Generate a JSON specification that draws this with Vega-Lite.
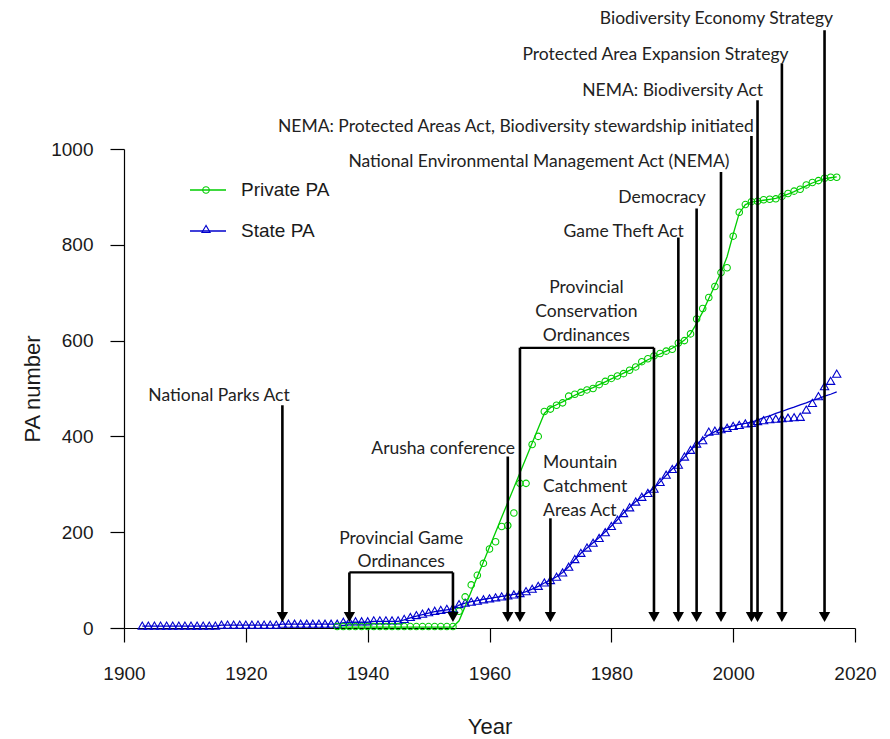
{
 "$schema": "https://vega.github.io/schema/vega-lite/v6.json",
 "width": 731,
 "height": 479,
 "autosize": {"type": "none"},
 "padding": {"left": 124, "top": 149, "right": 35, "bottom": 111},
 "background": "white",
 "config": {"view": {"stroke": null}},
 "datasets": {
  "pa": [
   {"year":1903,"series":"State PA","count":5,"fit":4},{"year":1904,"series":"State PA","count":5,"fit":4},{"year":1905,"series":"State PA","count":5,"fit":4},{"year":1906,"series":"State PA","count":5,"fit":4},{"year":1907,"series":"State PA","count":5,"fit":4},{"year":1908,"series":"State PA","count":5,"fit":4},{"year":1909,"series":"State PA","count":5,"fit":4},{"year":1910,"series":"State PA","count":5,"fit":4},{"year":1911,"series":"State PA","count":5,"fit":4},{"year":1912,"series":"State PA","count":5,"fit":4},{"year":1913,"series":"State PA","count":5,"fit":4},{"year":1914,"series":"State PA","count":5,"fit":4},{"year":1915,"series":"State PA","count":5,"fit":4},
   {"year":1916,"series":"State PA","count":7,"fit":6},{"year":1917,"series":"State PA","count":7,"fit":6},{"year":1918,"series":"State PA","count":7,"fit":6},{"year":1919,"series":"State PA","count":7,"fit":6},{"year":1920,"series":"State PA","count":7,"fit":6},{"year":1921,"series":"State PA","count":7,"fit":6},{"year":1922,"series":"State PA","count":7,"fit":6},{"year":1923,"series":"State PA","count":7,"fit":6},{"year":1924,"series":"State PA","count":7,"fit":6},{"year":1925,"series":"State PA","count":7,"fit":6},
   {"year":1926,"series":"State PA","count":9,"fit":8},{"year":1927,"series":"State PA","count":9,"fit":8},{"year":1928,"series":"State PA","count":9,"fit":8},{"year":1929,"series":"State PA","count":9,"fit":8},{"year":1930,"series":"State PA","count":9,"fit":8},{"year":1931,"series":"State PA","count":9,"fit":8},{"year":1932,"series":"State PA","count":9,"fit":8},{"year":1933,"series":"State PA","count":9,"fit":8},{"year":1934,"series":"State PA","count":9,"fit":8},{"year":1935,"series":"State PA","count":9,"fit":8},
   {"year":1936,"series":"State PA","count":13,"fit":11},{"year":1937,"series":"State PA","count":14,"fit":12},{"year":1938,"series":"State PA","count":14,"fit":12},{"year":1939,"series":"State PA","count":14,"fit":12},{"year":1940,"series":"State PA","count":14,"fit":12},
   {"year":1941,"series":"State PA","count":16,"fit":14},{"year":1942,"series":"State PA","count":16,"fit":14},{"year":1943,"series":"State PA","count":16,"fit":14},{"year":1944,"series":"State PA","count":16,"fit":14},{"year":1945,"series":"State PA","count":16,"fit":14},
   {"year":1946,"series":"State PA","count":19,"fit":17},{"year":1947,"series":"State PA","count":23,"fit":21},{"year":1948,"series":"State PA","count":27,"fit":25},{"year":1949,"series":"State PA","count":30,"fit":28},{"year":1950,"series":"State PA","count":33,"fit":31},{"year":1951,"series":"State PA","count":36,"fit":34},{"year":1952,"series":"State PA","count":38,"fit":36},{"year":1953,"series":"State PA","count":40,"fit":38},{"year":1954,"series":"State PA","count":42,"fit":40},
   {"year":1955,"series":"State PA","count":50,"fit":48},{"year":1956,"series":"State PA","count":53,"fit":52},{"year":1957,"series":"State PA","count":55,"fit":55},{"year":1958,"series":"State PA","count":57,"fit":57},{"year":1959,"series":"State PA","count":60,"fit":60},{"year":1960,"series":"State PA","count":62,"fit":62},{"year":1961,"series":"State PA","count":64,"fit":64},{"year":1962,"series":"State PA","count":66,"fit":66},{"year":1963,"series":"State PA","count":68,"fit":68},{"year":1964,"series":"State PA","count":70,"fit":70},
   {"year":1965,"series":"State PA","count":73,"fit":72},{"year":1966,"series":"State PA","count":77,"fit":76},{"year":1967,"series":"State PA","count":82,"fit":81},{"year":1968,"series":"State PA","count":88,"fit":87},{"year":1969,"series":"State PA","count":95,"fit":94},{"year":1970,"series":"State PA","count":100,"fit":100},{"year":1971,"series":"State PA","count":107,"fit":107},{"year":1972,"series":"State PA","count":116,"fit":116},{"year":1973,"series":"State PA","count":128,"fit":128},{"year":1974,"series":"State PA","count":144,"fit":143},
   {"year":1975,"series":"State PA","count":157,"fit":156},{"year":1976,"series":"State PA","count":168,"fit":167},{"year":1977,"series":"State PA","count":178,"fit":178},{"year":1978,"series":"State PA","count":188,"fit":189},{"year":1979,"series":"State PA","count":200,"fit":201},{"year":1980,"series":"State PA","count":213,"fit":213},{"year":1981,"series":"State PA","count":226,"fit":226},{"year":1982,"series":"State PA","count":240,"fit":240},{"year":1983,"series":"State PA","count":252,"fit":252},{"year":1984,"series":"State PA","count":264,"fit":264},
   {"year":1985,"series":"State PA","count":274,"fit":274},{"year":1986,"series":"State PA","count":282,"fit":283},{"year":1987,"series":"State PA","count":291,"fit":292},{"year":1988,"series":"State PA","count":305,"fit":305},{"year":1989,"series":"State PA","count":320,"fit":319},{"year":1990,"series":"State PA","count":332,"fit":332},{"year":1991,"series":"State PA","count":341,"fit":343},{"year":1992,"series":"State PA","count":358,"fit":357},{"year":1993,"series":"State PA","count":372,"fit":371},{"year":1994,"series":"State PA","count":385,"fit":384},
   {"year":1995,"series":"State PA","count":392,"fit":394},{"year":1996,"series":"State PA","count":410,"fit":403},{"year":1997,"series":"State PA","count":412,"fit":410},{"year":1998,"series":"State PA","count":415,"fit":415},{"year":1999,"series":"State PA","count":418,"fit":419},{"year":2000,"series":"State PA","count":422,"fit":422},{"year":2001,"series":"State PA","count":424,"fit":425},{"year":2002,"series":"State PA","count":427,"fit":427},{"year":2003,"series":"State PA","count":428,"fit":430},{"year":2004,"series":"State PA","count":432,"fit":434},
   {"year":2005,"series":"State PA","count":434,"fit":439},{"year":2006,"series":"State PA","count":436,"fit":443},{"year":2007,"series":"State PA","count":437,"fit":448},{"year":2008,"series":"State PA","count":438,"fit":452},{"year":2009,"series":"State PA","count":439,"fit":457},{"year":2010,"series":"State PA","count":440,"fit":461},{"year":2011,"series":"State PA","count":441,"fit":466},{"year":2012,"series":"State PA","count":456,"fit":470},{"year":2013,"series":"State PA","count":470,"fit":475},{"year":2014,"series":"State PA","count":484,"fit":479},
   {"year":2015,"series":"State PA","count":505,"fit":484},{"year":2016,"series":"State PA","count":516,"fit":488},{"year":2017,"series":"State PA","count":531,"fit":493},
   {"year":1935,"series":"Private PA","count":3,"fit":2},{"year":1936,"series":"Private PA","count":3,"fit":2},{"year":1937,"series":"Private PA","count":3,"fit":2},{"year":1938,"series":"Private PA","count":3,"fit":2},{"year":1939,"series":"Private PA","count":3,"fit":2},{"year":1940,"series":"Private PA","count":3,"fit":2},{"year":1941,"series":"Private PA","count":3,"fit":2},{"year":1942,"series":"Private PA","count":3,"fit":2},{"year":1943,"series":"Private PA","count":3,"fit":2},{"year":1944,"series":"Private PA","count":3,"fit":2},
   {"year":1945,"series":"Private PA","count":3,"fit":2},{"year":1946,"series":"Private PA","count":3,"fit":2},{"year":1947,"series":"Private PA","count":3,"fit":2},{"year":1948,"series":"Private PA","count":3,"fit":2},{"year":1949,"series":"Private PA","count":3,"fit":2},{"year":1950,"series":"Private PA","count":3,"fit":2},{"year":1951,"series":"Private PA","count":3,"fit":2},{"year":1952,"series":"Private PA","count":3,"fit":2},{"year":1953,"series":"Private PA","count":3,"fit":2},{"year":1954,"series":"Private PA","count":3,"fit":2},
   {"year":1955,"series":"Private PA","count":35,"fit":15},{"year":1956,"series":"Private PA","count":65,"fit":45},{"year":1957,"series":"Private PA","count":90,"fit":76},{"year":1958,"series":"Private PA","count":110,"fit":107},{"year":1959,"series":"Private PA","count":135,"fit":138},{"year":1960,"series":"Private PA","count":165,"fit":169},{"year":1961,"series":"Private PA","count":180,"fit":200},{"year":1962,"series":"Private PA","count":212,"fit":231},{"year":1963,"series":"Private PA","count":214,"fit":262},{"year":1964,"series":"Private PA","count":240,"fit":293},
   {"year":1965,"series":"Private PA","count":302,"fit":324},{"year":1966,"series":"Private PA","count":302,"fit":355},{"year":1967,"series":"Private PA","count":383,"fit":386},{"year":1968,"series":"Private PA","count":400,"fit":417},{"year":1969,"series":"Private PA","count":452,"fit":448},{"year":1970,"series":"Private PA","count":457,"fit":460},{"year":1971,"series":"Private PA","count":465,"fit":466},{"year":1972,"series":"Private PA","count":470,"fit":472},{"year":1973,"series":"Private PA","count":484,"fit":479},{"year":1974,"series":"Private PA","count":488,"fit":486},
   {"year":1975,"series":"Private PA","count":492,"fit":492},{"year":1976,"series":"Private PA","count":497,"fit":497},{"year":1977,"series":"Private PA","count":500,"fit":502},{"year":1978,"series":"Private PA","count":508,"fit":508},{"year":1979,"series":"Private PA","count":515,"fit":514},{"year":1980,"series":"Private PA","count":521,"fit":520},{"year":1981,"series":"Private PA","count":526,"fit":526},{"year":1982,"series":"Private PA","count":531,"fit":532},{"year":1983,"series":"Private PA","count":538,"fit":538},{"year":1984,"series":"Private PA","count":545,"fit":545},
   {"year":1985,"series":"Private PA","count":556,"fit":553},{"year":1986,"series":"Private PA","count":562,"fit":560},{"year":1987,"series":"Private PA","count":568,"fit":566},{"year":1988,"series":"Private PA","count":573,"fit":572},{"year":1989,"series":"Private PA","count":578,"fit":578},{"year":1990,"series":"Private PA","count":582,"fit":584},{"year":1991,"series":"Private PA","count":595,"fit":592},{"year":1992,"series":"Private PA","count":600,"fit":601},{"year":1993,"series":"Private PA","count":614,"fit":614},{"year":1994,"series":"Private PA","count":645,"fit":636},
   {"year":1995,"series":"Private PA","count":667,"fit":660},{"year":1996,"series":"Private PA","count":690,"fit":688},{"year":1997,"series":"Private PA","count":713,"fit":715},{"year":1998,"series":"Private PA","count":742,"fit":742},{"year":1999,"series":"Private PA","count":752,"fit":775},{"year":2000,"series":"Private PA","count":818,"fit":822},{"year":2001,"series":"Private PA","count":868,"fit":866},{"year":2002,"series":"Private PA","count":884,"fit":884},{"year":2003,"series":"Private PA","count":890,"fit":889},{"year":2004,"series":"Private PA","count":891,"fit":891},
   {"year":2005,"series":"Private PA","count":894,"fit":893},{"year":2006,"series":"Private PA","count":895,"fit":895},{"year":2007,"series":"Private PA","count":896,"fit":897},{"year":2008,"series":"Private PA","count":901,"fit":901},{"year":2009,"series":"Private PA","count":907,"fit":906},{"year":2010,"series":"Private PA","count":912,"fit":911},{"year":2011,"series":"Private PA","count":916,"fit":917},{"year":2012,"series":"Private PA","count":925,"fit":923},{"year":2013,"series":"Private PA","count":930,"fit":929},{"year":2014,"series":"Private PA","count":934,"fit":934},
   {"year":2015,"series":"Private PA","count":939,"fit":938},{"year":2016,"series":"Private PA","count":941,"fit":940},{"year":2017,"series":"Private PA","count":941,"fit":942}
  ],
  "arrows": [
   {"year":1926,"top":465},{"year":1937,"top":116},{"year":1954,"top":116},{"year":1963,"top":358},{"year":1965,"top":585},{"year":1970,"top":229},{"year":1987,"top":585},{"year":1991,"top":815},{"year":1994,"top":876},{"year":1998,"top":952},{"year":2003,"top":1027},{"year":2004,"top":1102},{"year":2008,"top":1179},{"year":2015,"top":1248}
  ],
  "brackets": [
   {"start":1937,"end":1954,"level":116},{"start":1965,"end":1987,"level":585}
  ],
  "labels": [
   {"text":"National Parks Act","x":1927.2,"y":473,"align":"right"},
   {"text":"Arusha conference","x":1964.2,"y":364,"align":"right"},
   {"text":"Game Theft Act","x":1991.9,"y":816,"align":"right"},
   {"text":"Democracy","x":1995.5,"y":887,"align":"right"},
   {"text":"National Environmental Management Act (NEMA)","x":1999.4,"y":962,"align":"right"},
   {"text":"NEMA: Protected Areas Act, Biodiversity stewardship initiated","x":2003.4,"y":1035,"align":"right"},
   {"text":"NEMA: Biodiversity Act","x":2004.9,"y":1110,"align":"right"},
   {"text":"Protected Area Expansion Strategy","x":2009.1,"y":1185,"align":"right"},
   {"text":"Biodiversity Economy Strategy","x":2016.4,"y":1260,"align":"right"},
   {"text":"Provincial Game","x":1945.5,"y":176,"align":"center"},
   {"text":"Ordinances","x":1945.5,"y":127,"align":"center"},
   {"text":"Provincial","x":1975.9,"y":699,"align":"center"},
   {"text":"Conservation","x":1975.9,"y":649,"align":"center"},
   {"text":"Ordinances","x":1975.9,"y":599,"align":"center"},
   {"text":"Mountain","x":1968.8,"y":334,"align":"left"},
   {"text":"Catchment","x":1968.8,"y":284,"align":"left"},
   {"text":"Areas Act","x":1968.8,"y":233,"align":"left"}
  ]
 },
 "layer": [
  {
   "data": {"name": "pa"},
   "mark": {"type": "line", "strokeWidth": 1.3},
   "encoding": {
    "x": {"field": "year", "type": "quantitative",
      "scale": {"domain": [1900, 2020], "nice": false, "zero": false},
      "axis": {"title": "Year", "values": [1900,1920,1940,1960,1980,2000,2020], "format": "d", "grid": false,
        "tickSize": 14, "tickColor": "black", "tickWidth": 1.2, "domainColor": "black", "domainWidth": 1.2,
        "labelFont": "Liberation Sans", "labelFontSize": 19, "labelColor": "#1a1a1a", "labelPadding": 22, "labelFlush": false,
        "titleFont": "Liberation Sans", "titleFontSize": 22, "titleFontWeight": "normal", "titleColor": "#1a1a1a", "titlePadding": 33}},
    "y": {"field": "fit", "type": "quantitative",
      "scale": {"domain": [0, 1000], "nice": false, "zero": false},
      "axis": {"title": "PA number", "values": [0,200,400,600,800,1000], "format": "d", "grid": false,
        "tickSize": 14, "tickColor": "black", "tickWidth": 1.2, "domainColor": "black", "domainWidth": 1.2,
        "labelFont": "Liberation Sans", "labelFontSize": 19, "labelColor": "#1a1a1a", "labelPadding": 17, "labelFlush": false,
        "titleFont": "Liberation Sans", "titleFontSize": 22, "titleFontWeight": "normal", "titleColor": "#1a1a1a", "titlePadding": 6}},
    "stroke": {"field": "series", "type": "nominal",
      "scale": {"domain": ["Private PA", "State PA"], "range": ["#00CD00", "#0000CD"]},
      "legend": {"orient": "none", "legendX": 65, "legendY": 22, "title": null, "padding": 0,
        "symbolType": "stroke", "symbolSize": 1296, "symbolStrokeWidth": 1.3, "rowPadding": 12,
        "labelFont": "Liberation Sans", "labelFontSize": 19, "labelColor": "#1a1a1a", "labelOffset": 14, "labelLimit": 300}}
   }
  },
  {
   "data": {"name": "pa"},
   "mark": {"type": "point", "filled": false, "strokeWidth": 1.1, "opacity": 1},
   "encoding": {
    "x": {"field": "year", "type": "quantitative"},
    "y": {"field": "count", "type": "quantitative"},
    "color": {"field": "series", "type": "nominal",
      "scale": {"range": ["#00CD00", "#0000CD"]},
      "legend": {"orient": "none", "legendX": 72.5, "legendY": 31.5, "title": null, "padding": 0,
        "symbolStrokeWidth": 1.1, "rowPadding": 19, "labelFontSize": 19, "labelExpr": "''", "labelOffset": 14}},
    "shape": {"field": "series", "type": "nominal", "scale": {"range": ["circle", "triangle-up"]}, "legend": null},
    "size": {"field": "series", "type": "nominal", "scale": {"range": [42, 68]}, "legend": null}
   }
  },
  {
   "data": {"name": "arrows"},
   "mark": {"type": "rule", "color": "black", "strokeWidth": 2.6},
   "encoding": {
    "x": {"field": "year", "type": "quantitative"},
    "y": {"field": "top", "type": "quantitative"},
    "y2": {"datum": 25}
   }
  },
  {
   "data": {"name": "arrows"},
   "mark": {"type": "point", "shape": "triangle-down", "filled": true, "color": "black", "size": 128, "opacity": 1},
   "encoding": {
    "x": {"field": "year", "type": "quantitative"},
    "y": {"datum": 23}
   }
  },
  {
   "data": {"name": "brackets"},
   "mark": {"type": "rule", "color": "black", "strokeWidth": 2.2},
   "encoding": {
    "x": {"field": "start", "type": "quantitative"},
    "x2": {"field": "end"},
    "y": {"field": "level", "type": "quantitative"}
   }
  },
  {
   "data": {"name": "labels"},
   "transform": [{"filter": "datum.align === 'right'"}],
   "mark": {"type": "text", "align": "right", "baseline": "alphabetic", "font": "Lato", "fontSize": 17.5, "color": "#222222"},
   "encoding": {
    "x": {"field": "x", "type": "quantitative"},
    "y": {"field": "y", "type": "quantitative"},
    "text": {"field": "text"}
   }
  },
  {
   "data": {"name": "labels"},
   "transform": [{"filter": "datum.align === 'center'"}],
   "mark": {"type": "text", "align": "center", "baseline": "alphabetic", "font": "Lato", "fontSize": 17.5, "color": "#222222"},
   "encoding": {
    "x": {"field": "x", "type": "quantitative"},
    "y": {"field": "y", "type": "quantitative"},
    "text": {"field": "text"}
   }
  },
  {
   "data": {"name": "labels"},
   "transform": [{"filter": "datum.align === 'left'"}],
   "mark": {"type": "text", "align": "left", "baseline": "alphabetic", "font": "Lato", "fontSize": 17.5, "color": "#222222"},
   "encoding": {
    "x": {"field": "x", "type": "quantitative"},
    "y": {"field": "y", "type": "quantitative"},
    "text": {"field": "text"}
   }
  }
 ]
}
